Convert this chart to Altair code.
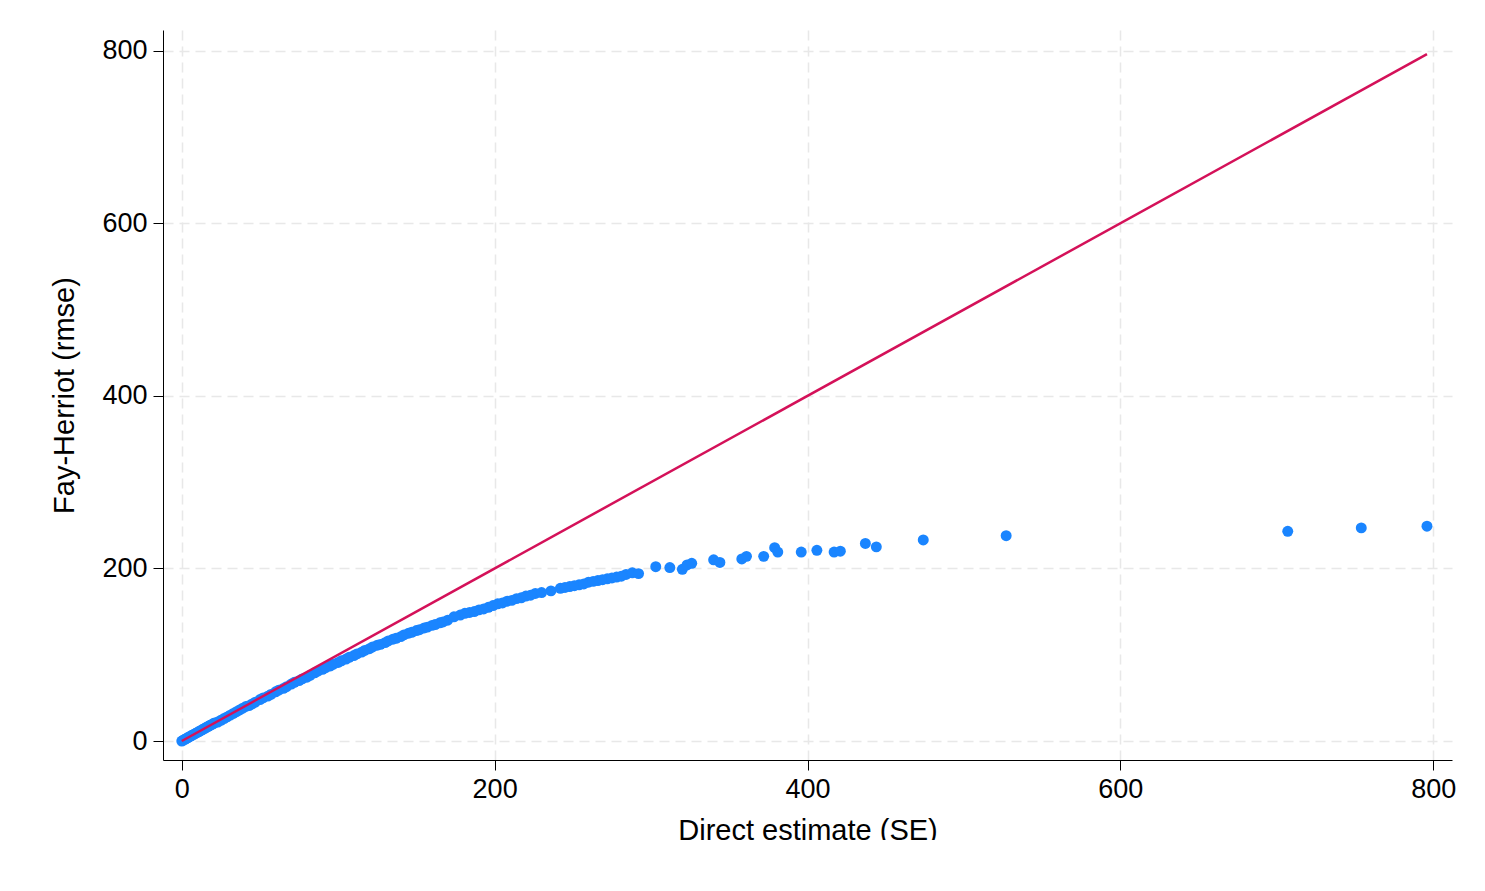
import altair as alt
import pandas as pd

# Direct estimate SE vs Fay-Herriot RMSE
direct_se = [0, 1, 2, 3, 5, 7, 9, 12, 15, 18, 21, 25, 29, 33, 37, 41, 45, 50, 55, 60, 65, 70, 75, 80, 85, 90, 95,
             100, 105, 110, 115, 120, 125, 130, 135, 140, 145, 150, 155, 160, 165, 170, 178, 184, 190, 196, 202,
             208, 214, 220, 226, 236, 242, 248, 254, 260, 266, 272, 278, 284, 288, 292, 303, 312, 320, 323, 326,
             340, 344, 358, 361, 372, 379, 381, 396, 406, 417, 421, 437, 444, 474, 527, 707, 754, 796,
             4, 6, 8, 10, 11, 13, 14, 16, 17, 19, 20, 23, 27, 31, 35, 39, 43, 47, 52, 57, 62, 67, 72, 77, 82,
             87, 92, 97, 102, 107, 112, 117, 122, 127, 132, 137, 142, 147, 152, 157, 162, 167, 174, 181, 187,
             193, 199, 205, 211, 217, 223, 230, 245, 251, 257, 263, 269, 275, 281]
fh_rmse = [0, 1, 2, 3, 5, 7, 9, 12, 15, 18, 21, 24, 28, 32, 36, 40, 43, 48, 52, 57, 61, 66, 70, 74, 79, 83, 87,
           91, 95, 99, 103, 107, 111, 114, 118, 121, 125, 128, 131, 134, 137, 140, 146, 149, 152, 155, 159,
           162, 165, 168, 171, 174, 177, 179, 181, 184, 186, 188, 190, 193, 195, 194, 202, 201, 199, 204, 206,
           210, 207, 211, 214, 214, 224, 219, 219, 221, 219, 220, 229, 225, 233, 238, 243, 247, 249,
           4, 6, 8, 10, 11, 13, 14, 16, 17, 19, 20, 22, 26, 30, 34, 38, 41, 45, 50, 54, 59, 63, 68, 72, 76,
           81, 85, 89, 93, 97, 101, 105, 109, 112, 116, 119, 123, 126, 129, 132, 135, 138, 144, 148, 150,
           153, 157, 160, 163, 166, 169, 172, 178, 180, 182, 185, 187, 189, 191]
line_x = [0, 796]
line_y = [0, 796]

df = pd.DataFrame({"x": direct_se, "y": fh_rmse})
dl = pd.DataFrame({"x": line_x, "y": line_y})

font = "Liberation Sans"
xs = alt.Scale(domain=[-12, 812], nice=False, zero=False)
ys = alt.Scale(domain=[-22, 824], nice=False, zero=False)
xax = alt.Axis(values=[0, 200, 400, 600, 800], title="Direct estimate (SE)", grid=True)
yax = alt.Axis(values=[0, 200, 400, 600, 800], title="Fay-Herriot (rmse)", grid=True)

pts = alt.Chart(df).mark_circle(size=120, opacity=1, color="#1a85ff").encode(
    x=alt.X("x:Q", scale=xs, axis=xax), y=alt.Y("y:Q", scale=ys, axis=yax))
line = alt.Chart(dl).mark_line(color="#d41159", strokeWidth=2.5).encode(
    x=alt.X("x:Q", scale=xs), y=alt.Y("y:Q", scale=ys))

chart = (pts + line).properties(
    width=1289, height=730, autosize=alt.AutoSizeParams(type="none"),
    padding={"left": 155, "top": 22, "right": 20, "bottom": 80}
).configure_view(stroke=None).configure_axis(
    labelFont=font, titleFont=font, labelFontSize=27, titleFontSize=29, titleFontWeight="normal",
    labelColor="black", titleColor="black", domainColor="black", tickColor="black",
    tickSize=10, labelPadding=6, gridColor="#e8e8e8", gridDash=[10, 6], gridWidth=1.5
).configure_axisX(titlePadding=14).configure_axisY(titlePadding=22)

chart.save("out.html", embed_options={"renderer": "svg", "actions": False})
